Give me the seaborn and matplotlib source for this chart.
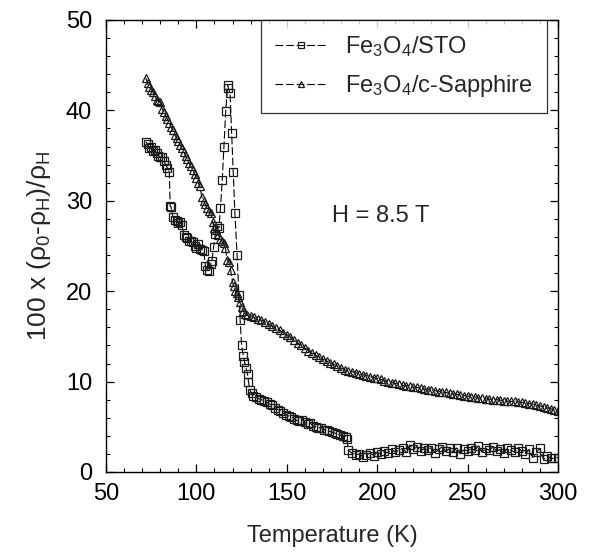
import numpy as np
import pandas as pd
import matplotlib
matplotlib.use("Agg")
import matplotlib.pyplot as plt
import seaborn as sns
from matplotlib.ticker import MultipleLocator

# ---- data ----
sto_T = [72, 73, 74, 75, 76, 77, 78, 79, 80, 81, 82, 83, 84, 85, 85.5, 86, 87, 88, 89, 90,
         91, 92, 93, 94, 95, 96, 97, 98, 99, 100, 101, 102, 103, 104, 105, 106, 107,
         108, 108.5, 109.5, 110.5, 111.5, 112.5, 113.3, 114.3, 115.2, 116.2, 117.3, 117.7,
         118.6, 119.5, 120.4, 121.3, 122.5, 123.5, 124.2, 125.0, 126.0, 126.6, 127.5, 128.3,
         128.8, 129.5, 130.5, 131.5, 133, 134.5, 136, 137.5, 139, 140.5, 142, 143.5, 145,
         146.5, 148, 149.5, 151, 152.5, 154, 155.5, 157, 158.5, 160, 161.5, 163, 164.5, 166,
         167.5, 169, 170.5, 172, 173.5, 175, 176.5, 178, 179.5, 181, 182.5, 183.3,
         184, 186, 188, 190, 192, 194, 196, 198, 200, 202, 204, 206, 208, 210, 212, 214, 216,
         218, 220, 222, 224, 226, 228, 230, 232, 234, 236, 238, 240, 242, 244, 246, 248, 250,
         252, 254, 256, 258, 260, 262, 264, 266, 268, 270, 272, 274, 276, 278, 280, 282, 284,
         286, 288, 290, 292, 294, 296, 298, 300]
sto_v = [36.5, 36.3, 35.8, 35.9, 35.5, 35.6, 35.3, 35.0, 34.8, 34.9, 34.4, 34.0, 33.6, 33.2,
         29.4, 29.3, 28.2, 27.9, 27.8, 27.5, 27.6, 27.3, 26.2, 26.0, 25.9, 25.5, 25.6, 25.4,
         25.0, 24.8, 25.2, 24.7, 24.6, 24.5, 22.8, 22.4, 22.2,
         23.0, 23.3, 24.9, 26.3, 27.2, 27.0, 29.2, 32.3, 36.0, 39.9, 42.8, 42.5,
         41.9, 37.5, 33.2, 28.6, 24.0, 19.6, 16.8, 14.0, 12.8, 12.2, 11.5, 10.8,
         10.0, 9.1, 8.7, 8.4, 8.3, 8.1, 8.0, 7.8, 7.7, 7.5, 7.4, 7.1, 6.9,
         6.8, 6.5, 6.3, 6.2, 6.1, 5.9, 5.7, 5.6, 5.8, 5.5, 5.3, 5.4, 5.1, 5.0,
         4.9, 4.9, 4.7, 4.6, 4.5, 4.4, 4.3, 4.2, 4.1, 4.0, 3.9, 3.7,
         2.4, 2.1, 1.9, 2.0, 1.7, 1.9, 2.1, 1.8, 2.2, 2.0, 2.3, 2.1, 2.5, 2.2, 2.4, 2.6, 2.2,
         3.0, 2.5, 2.8, 2.3, 2.6, 2.4, 2.7, 2.1, 2.5, 2.8, 2.3, 2.6, 2.2, 2.7, 2.0, 2.5, 2.3,
         2.6, 2.4, 2.9, 2.2, 2.6, 2.4, 2.8, 2.3, 2.5, 2.1, 2.6, 2.4, 2.2, 2.7, 2.3, 2.0, 2.5,
         1.6, 2.2, 2.6, 1.4, 1.8, 1.5, 1.5, 1.6]

sap_T = [72, 73, 74, 75, 76, 77, 78, 79, 80, 81, 82, 83, 84, 85, 86, 87, 88, 89, 90, 91,
         92, 93, 94, 95, 96, 97, 98, 99, 100, 101, 102, 103, 104, 105, 106, 107, 108, 109,
         110, 111, 112, 113, 114, 115, 116, 117, 118, 119, 120, 120.7, 121.5, 122.3, 123,
         124, 125, 126, 127, 128, 130, 132, 134, 136, 138, 140, 142, 144, 146, 148, 150,
         152, 154, 156, 158, 160, 162, 164, 166, 168, 170, 172, 174, 176, 178, 180, 182,
         184, 186, 188, 190, 192, 194, 196, 198, 200, 202, 204, 206, 208, 210, 212, 214,
         216, 218, 220, 222, 224, 226, 228, 230, 232, 234, 236, 238, 240, 242, 244, 246,
         248, 250, 252, 254, 256, 258, 260, 262, 264, 266, 268, 270, 272, 274, 276, 278,
         280, 282, 284, 286, 288, 290, 292, 294, 296, 298, 300]
sap_v = [43.6, 43.0, 42.6, 42.3, 42.0, 41.6, 41.2, 41.0, 40.9, 40.2, 39.8, 39.4, 39.0, 38.6,
         38.2, 37.8, 37.3, 37.0, 36.6, 36.2, 35.8, 35.4, 35.0, 34.6, 34.2, 33.8, 33.4, 33.0,
         32.5, 32.0, 31.6, 30.4, 30.0, 29.6, 29.2, 28.9, 28.7, 27.6, 27.0, 26.8, 26.2, 25.8,
         25.5, 25.3, 24.8, 23.5, 23.2, 22.3, 21.0, 20.6, 20.0, 19.8, 19.4, 18.8, 18.3, 17.8,
         17.5, 17.4, 17.3, 17.1, 16.9, 16.8, 16.6, 16.4, 16.1, 15.9, 15.7, 15.4, 15.2, 14.9,
         14.6, 14.3, 14.0, 13.7, 13.4, 13.2, 12.9, 12.7, 12.5, 12.3, 12.1, 11.9, 11.7, 11.5,
         11.3, 11.2, 11.1, 11.0, 10.85, 10.75, 10.65, 10.55, 10.45, 10.35, 10.25, 10.1, 10.0,
         9.9, 9.8, 9.7, 9.6, 9.55, 9.5, 9.4, 9.35, 9.25, 9.2, 9.1, 9.05, 9.0, 8.9, 8.85, 8.8,
         8.7, 8.65, 8.6, 8.5, 8.45, 8.4, 8.35, 8.3, 8.2, 8.15, 8.1, 8.05, 8.0, 8.0, 7.95,
         7.9, 7.85, 7.8, 7.8, 7.75, 7.7, 7.65, 7.55, 7.5, 7.4, 7.3, 7.2, 7.1, 7.0, 6.85, 6.7]

labels = [r'Fe$_3$O$_4$/STO', r'Fe$_3$O$_4$/c-Sapphire']
x_ticks = [50, 100, 150, 200, 250, 300]
y_ticks = [0, 10, 20, 30, 40, 50]

# ---- style ----
sns.set_theme(style="ticks")
plt.rcParams['font.family'] = ['Liberation Sans', 'DejaVu Sans']
plt.rcParams['mathtext.fontset'] = 'custom'
plt.rcParams['mathtext.rm'] = 'Liberation Sans'
plt.rcParams['mathtext.it'] = 'Liberation Sans:italic'
plt.rcParams['mathtext.default'] = 'rm'

FS = 17

fig = plt.figure(figsize=(5.92, 5.57), dpi=100)
ax = fig.add_axes([106/592, 1 - 472/557, (558-106)/592, (472-20)/557])

dash = (0, (7, 2.5))
df1 = pd.DataFrame({'T': sto_T, 'v': sto_v})
df2 = pd.DataFrame({'T': sap_T, 'v': sap_v})
sns.lineplot(data=df1, x='T', y='v', ax=ax, sort=False, color='black', lw=0.8,
             marker='s', markersize=6.3, markerfacecolor='none', markeredgecolor='#1a1a1a',
             markeredgewidth=0.9, linestyle=dash, label=labels[0])
sns.lineplot(data=df2, x='T', y='v', ax=ax, sort=False, color='black', lw=0.8,
             marker='^', markersize=6.3, markerfacecolor='none', markeredgecolor='#1a1a1a',
             markeredgewidth=0.9, linestyle=dash, label=labels[1])

ax.set_xlim(50, 300)
ax.set_ylim(0, 50)
ax.set_xticks(x_ticks)
ax.set_yticks(y_ticks)
ax.xaxis.set_minor_locator(MultipleLocator(10))
ax.yaxis.set_minor_locator(MultipleLocator(2))
ax.tick_params(which='both', direction='in', top=True, right=True, colors='black',
               labelsize=FS)
ax.tick_params(which='major', length=6, width=0.9)
ax.tick_params(which='minor', length=3, width=0.8)
ax.tick_params(axis='x', which='major', pad=8)
ax.tick_params(axis='y', which='major', pad=10)
for s in ax.spines.values():
    s.set_color('black')
    s.set_linewidth(1.0)

ax.set_xlabel('Temperature (K)', fontsize=FS, labelpad=14)
ax.set_ylabel(r'100 x ($\rho_0$-$\rho_H$)/$\rho_H$', fontsize=19, labelpad=9)

ax.text(175, 28.3, 'H = 8.5 T', fontsize=FS, va='center', ha='left')

leg = ax.legend(loc='upper right', bbox_to_anchor=((547-106)/452, 1.0), borderaxespad=0,
                frameon=True, fancybox=False, fontsize=FS, handlelength=2.2,
                handletextpad=0.75, borderpad=0.6, labelspacing=0.6, markerscale=0.6)
leg.get_frame().set_edgecolor('black')
leg.get_frame().set_linewidth(0.9)

fig.savefig('out.png', dpi=100)
